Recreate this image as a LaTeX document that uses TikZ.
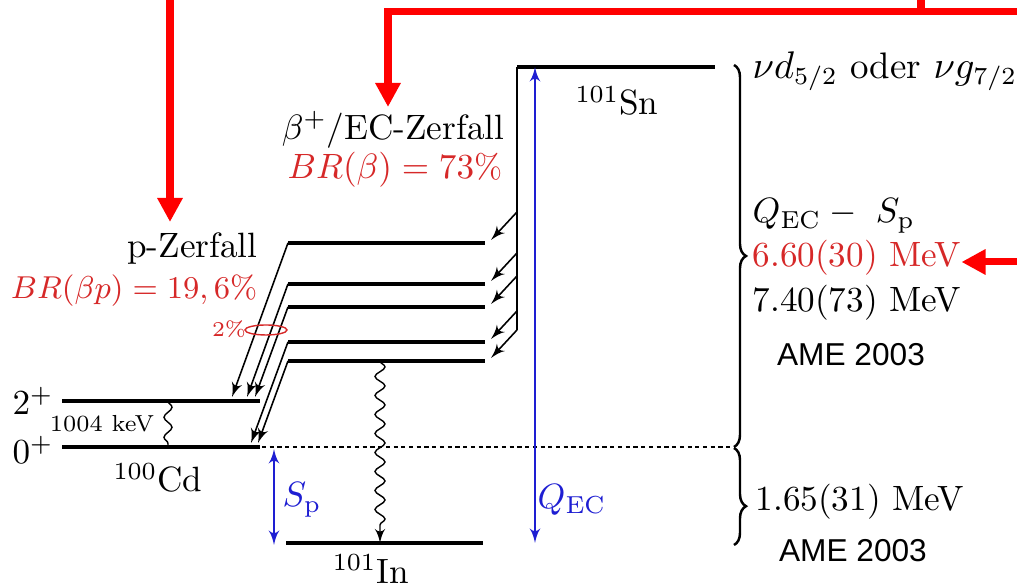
\documentclass[tikz,border=0pt]{standalone}
\usepackage{amsmath}
\usepackage{amssymb}
\usepackage{xcolor}
\usepackage{fontspec}
\newfontfamily\amefont{Liberation Sans}
\usetikzlibrary{arrows,arrows.meta,decorations.pathmorphing,decorations.pathreplacing}
\definecolor{brred}{RGB}{214,40,40}
\definecolor{qblue}{RGB}{30,30,210}
\tikzstyle{level} = [draw, line width=0.9pt]
\tikzstyle{decay} = [draw, line width=0.45pt, -latex']
\tikzstyle{qline} = [draw, qblue, line width=0.45pt, latex'-latex']
\tikzstyle{hint} = [draw, red, line width=0.07cm, -{Triangle[width=0.24cm,length=0.24cm]}]
\tikzstyle{lbl} = [inner sep=0pt]

\begin{document}
\begin{tikzpicture}[x=0.01cm,y=-0.01cm]
\useasboundingbox (0,0) rectangle (1017,586);
%
% 101Sn
\draw[level] (517,67) -- (715,67);
\draw[line width=0.6pt] (517,67) -- (517,330);
\node[lbl] (sn) at (617,101) {$^{101}$Sn};
%
% 101In levels
\draw[level] (288,243) -- (485,243);
\draw[level] (288,284) -- (485,284);
\draw[level] (288,307) -- (485,307);
\draw[level] (288,342) -- (485,342);
\draw[level] (288,361) -- (485,361);
\draw[level] (286,543) -- (483,543);
\node[lbl] (in) at (371,569) {$^{101}$In};
%
% beta decay into the levels
\draw[decay] (517,212) -- (491,240);
\draw[decay] (517,253) -- (491,281);
\draw[decay] (517,276) -- (491,304);
\draw[decay] (517,311) -- (491,339);
\draw[decay] (517,330) -- (491,358);
%
% 100Cd
\draw[level] (62,401) -- (260,401);
\draw[level] (62,447) -- (260,447);
\node[lbl] (two) at (33,401) {$2^+$};
\node[lbl] (zero) at (33,450) {$0^+$};
\node[lbl] (kev) at (102,424) {\fontsize{6.6}{8}\selectfont 1004 keV};
\node[lbl] (cd) at (158,478) {$^{100}$Cd};
\draw[decorate,decoration={snake,segment length=0.2cm,amplitude=0.04cm}] (168,401) -- (168,447);
%
% proton decay
\draw[decay] (288,243) -- (232,397);
\draw[decay] (288,284) -- (247,397);
\draw[decay] (288,307) -- (255,397);
\draw[decay] (288,342) -- (251,443);
\draw[decay] (288,361) -- (258,443);
\draw[brred,line width=0.4pt] (266,330) ellipse [x radius=0.21cm, y radius=0.05cm];
\node[lbl,text=brred] (pct) at (229,329) {\fontsize{6}{7}\selectfont 2\%};
%
% gamma
\draw[decorate,decoration={snake,segment length=0.19cm,amplitude=0.05cm,post length=0.12cm},-latex'] (380,361) -- (380,543);
%
% S_p and Q_EC
\draw[dash pattern=on 1.2pt off 1pt,line width=0.4pt] (262,447) -- (735,447);
\draw[qline] (274,449) -- (274,545);
\draw[qline] (535,67) -- (535,543);
\node[lbl,text=qblue] (sp) at (302,500) {$S_{\mathrm{p}}$};
\node[lbl,text=qblue] (qec) at (572,500) {$Q_{\mathrm{EC}}$};
%
% decay labels
\node[lbl,anchor=east] (bec) at (505,130) {$\beta^+$/EC-Zerfall};
\node[lbl,anchor=east,text=brred] (brb) at (503,170) {\fontsize{9.6}{11}\selectfont$BR(\beta) = 73\%$};
\node[lbl,anchor=east] (pz) at (258,249) {p-Zerfall};
\node[lbl,anchor=east,text=brred] (brp) at (258,291) {\fontsize{9}{11}\selectfont$BR(\beta p) = 19,6\%$};
%
% braces and values
\draw[decorate,decoration={brace,amplitude=0.12cm},line width=0.7pt] (734,65) -- (734,447);
\draw[decorate,decoration={brace,amplitude=0.12cm,aspect=0.6},line width=0.7pt] (734,448) -- (734,545);
\node[lbl,anchor=west] (orb) at (752,71) {\fontsize{10.5}{12}\selectfont$\nu d_{5/2}$ oder $\nu g_{7/2}$};
\node[lbl,anchor=west] (diff) at (752,216) {$Q_{\mathrm{EC}} -\ S_{\mathrm{p}}$};
\node[lbl,anchor=west,text=brred] (mev) at (752,258) {6.60(30) MeV};
\node[lbl,anchor=west] (mevb) at (752,303) {7.40(73) MeV};
\node[lbl] (ame) at (851,355) {\amefont\fontsize{9}{10}\selectfont AME 2003};
\node[lbl,anchor=west] (spv) at (755,502) {1.65(31) MeV};
\node[lbl] (ameb) at (853,551) {\amefont\fontsize{9}{10}\selectfont AME 2003};
%
% red hints
\draw[hint] (170,0) -- (170,222);
\draw[hint] (921,0) |- (388,12) -- (388,107);
\draw[red,line width=0.07cm] (1017,12) -- (921,12);
\draw[hint] (1017,262) -- (mev.east |- 1017,262);
\end{tikzpicture}
\end{document}
